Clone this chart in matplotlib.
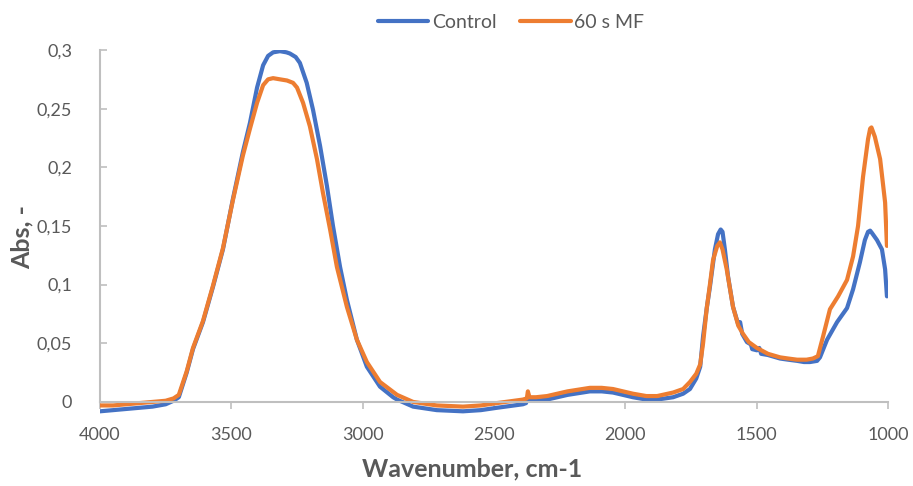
import matplotlib
matplotlib.use("Agg")
import matplotlib.pyplot as plt

# ---- data ----
wn_control = [4000, 3950, 3900, 3850, 3800, 3750, 3720, 3700, 3670, 3646, 3608, 3570, 3532, 3494,
              3456, 3429, 3402, 3379, 3360, 3341, 3315, 3290, 3277, 3255, 3239, 3213, 3189, 3162,
              3136, 3113, 3086, 3060, 3022, 2984, 2934, 2884, 2869, 2808, 2718, 2618, 2550, 2489,
              2390, 2378, 2374, 2365, 2340, 2298, 2220, 2135, 2090, 2047, 1971, 1920, 1879, 1818,
              1780, 1754, 1730, 1715, 1704, 1690, 1678, 1659, 1647, 1637, 1630, 1621, 1609, 1590,
              1570, 1563, 1555, 1537, 1522, 1517, 1499, 1490, 1483, 1457, 1411, 1380, 1346, 1320,
              1297, 1270, 1259, 1232, 1194, 1156, 1133, 1107, 1088, 1076, 1068, 1061, 1042, 1023,
              1011, 1004]
abs_control = [-0.008, -0.007, -0.006, -0.005, -0.004, -0.002, 0.001, 0.004, 0.025, 0.045, 0.068,
               0.098, 0.130, 0.173, 0.213, 0.238, 0.268, 0.287, 0.295, 0.298, 0.299, 0.298, 0.297,
               0.294, 0.289, 0.272, 0.249, 0.218, 0.184, 0.150, 0.115, 0.087, 0.053, 0.030, 0.013,
               0.004, 0.002, -0.004, -0.007, -0.008, -0.007, -0.005, -0.002, -0.001, 0.003, 0.001,
               0.001, 0.002, 0.006, 0.009, 0.009, 0.008, 0.004, 0.002, 0.002, 0.004, 0.007, 0.011,
               0.020, 0.030, 0.056, 0.080, 0.098, 0.130, 0.143, 0.147, 0.145, 0.130, 0.107, 0.081,
               0.066, 0.068, 0.058, 0.051, 0.049, 0.045, 0.044, 0.046, 0.041, 0.040, 0.037, 0.036,
               0.035, 0.034, 0.034, 0.035, 0.038, 0.053, 0.068, 0.080, 0.096, 0.119, 0.138, 0.145,
               0.146, 0.144, 0.138, 0.130, 0.113, 0.090]

wn_mf = [4000, 3950, 3900, 3850, 3800, 3750, 3720, 3700, 3670, 3646, 3608, 3570, 3532, 3494, 3456,
         3429, 3402, 3379, 3360, 3341, 3315, 3288, 3265, 3250, 3227, 3201, 3174, 3151, 3124, 3098,
         3060, 3022, 2984, 2934, 2869, 2808, 2718, 2618, 2550, 2489, 2390, 2375, 2371, 2365, 2340,
         2298, 2220, 2135, 2090, 2047, 1971, 1920, 1879, 1818, 1780, 1754, 1730, 1715, 1704, 1690,
         1678, 1666, 1650, 1640, 1630, 1614, 1590, 1570, 1552, 1530, 1499, 1457, 1411, 1380, 1346,
         1310, 1286, 1267, 1247, 1221, 1190, 1156, 1133, 1114, 1095, 1076, 1068, 1063, 1050, 1030,
         1011, 1004]
abs_mf = [-0.003, -0.003, -0.002, -0.001, 0.000, 0.001, 0.003, 0.006, 0.026, 0.046, 0.069, 0.099,
          0.131, 0.172, 0.210, 0.233, 0.255, 0.270, 0.275, 0.276, 0.275, 0.274, 0.272, 0.268, 0.255,
          0.235, 0.207, 0.178, 0.147, 0.115, 0.081, 0.053, 0.034, 0.017, 0.006, 0.000, -0.003,
          -0.004, -0.003, -0.001, 0.002, 0.003, 0.009, 0.004, 0.004, 0.005, 0.009, 0.012, 0.012,
          0.011, 0.007, 0.005, 0.005, 0.008, 0.011, 0.017, 0.024, 0.032, 0.050, 0.080, 0.100, 0.121,
          0.133, 0.136, 0.130, 0.113, 0.081, 0.065, 0.058, 0.051, 0.046, 0.041, 0.038, 0.037, 0.036,
          0.036, 0.037, 0.039, 0.056, 0.079, 0.090, 0.104, 0.124, 0.150, 0.192, 0.224, 0.233, 0.234,
          0.226, 0.207, 0.170, 0.133]

series_names = ["Control", "60 s MF"]
x_ticks = [4000, 3500, 3000, 2500, 2000, 1500, 1000]
y_ticks = [0, 0.05, 0.1, 0.15, 0.2, 0.25, 0.3]
y_tick_labels = ["0", "0,05", "0,1", "0,15", "0,2", "0,25", "0,3"]

# ---- style ----
plt.rcParams['font.family'] = ['Lato', 'DejaVu Sans']
blue = "#4472C4"
orange = "#ED7D31"
axis_gray = "#BFBFBF"
text_gray = "#595959"

fig = plt.figure(figsize=(9.13, 4.86), dpi=100)
ax = fig.add_axes([100 / 913, 1 - 416 / 486, 788 / 913, 366 / 486])

ax.plot(wn_control, abs_control, color=blue, lw=3.0, label=series_names[0],
        solid_joinstyle='round', solid_capstyle='round')
ax.plot(wn_mf, abs_mf, color=orange, lw=3.0, label=series_names[1],
        solid_joinstyle='round', solid_capstyle='round')

ax.set_xlim(4000, 1000)
ax.set_ylim(-0.012, 0.3)

for s in ["top", "right"]:
    ax.spines[s].set_visible(False)
ax.spines["bottom"].set_position(("data", 0))
ax.spines["left"].set_bounds(0, 0.3)
for s in ["bottom", "left"]:
    ax.spines[s].set_color(axis_gray)
    ax.spines[s].set_linewidth(1.5)

ax.set_xticks(x_ticks)
ax.set_xticklabels([str(t) for t in x_ticks])
ax.set_yticks(y_ticks)
ax.set_yticklabels(y_tick_labels)
ax.tick_params(axis="x", direction="out", length=5, width=1.2, color=axis_gray,
               labelsize=13, labelcolor=text_gray, pad=13)
ax.tick_params(axis="y", direction="in", length=5, width=1.2, color=axis_gray,
               labelsize=13, labelcolor=text_gray, pad=20)

fig.text(472 / 913, 1 - 469 / 486, "Wavenumber, cm-1", ha="center", va="center",
         fontsize=18, fontweight="bold", color=text_gray)
fig.text(22 / 913, 1 - 237 / 486, "Abs, -", ha="center", va="center", rotation=90,
         fontsize=18, fontweight="bold", color=text_gray)

fig.legend(loc="center", bbox_to_anchor=(511 / 913, 1 - 22 / 486), ncol=2, frameon=False,
           fontsize=14, handlelength=2.6, handletextpad=0.2, columnspacing=1.2,
           labelcolor=text_gray)

fig.savefig("out.png", dpi=100)
